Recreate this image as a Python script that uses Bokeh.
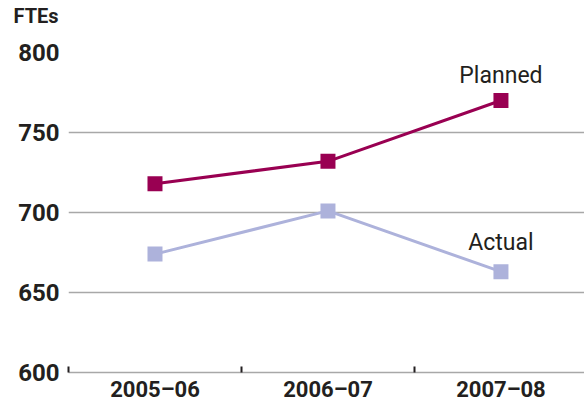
from bokeh.plotting import figure
from bokeh.models import Range1d, FixedTicker, ColumnDataSource, Label, Title
from bokeh.embed import file_html
from bokeh.resources import INLINE

# Fiscal years and full-time equivalents
years = ["2005–06", "2006–07", "2007–08"]
planned = [718, 732, 770]
actual = [674, 701, 663]
y_ticks = [600, 650, 700, 750, 800]

FONT = "Roboto"
TEXT_C = "#231f20"
PLANNED_C = "#990052"
ACTUAL_C = "#adb2db"
GRID_C = "#a8a8a8"

xs = [i + 0.5 for i in range(len(years))]

p = figure(width=584, height=408, output_backend="svg", toolbar_location=None,
           x_range=Range1d(0, 2.983), y_range=Range1d(600, 800),
           min_border_left=68, min_border_right=0, min_border_top=52,
           min_border_bottom=36)
p.title = None
p.outline_line_color = None
p.background_fill_color = "white"
p.border_fill_color = "white"

# blank panel between the plot area and the unit caption
p.add_layout(Title(text=" ", standoff=9, text_font=FONT,
                   text_font_size="12px"), "above")
# unit caption in the top-left corner
p.add_layout(Title(text="FTEs", align="left", offset=-55,
                   vertical_align="bottom", standoff=0, text_font=FONT,
                   text_font_style="bold", text_font_size="20px",
                   text_color=TEXT_C), "above")

# y axis: labels only, gridlines carry the scale
p.yaxis.ticker = FixedTicker(ticks=y_ticks)
p.yaxis.axis_line_color = None
p.yaxis.major_tick_line_color = None
p.yaxis.minor_tick_line_color = None
p.yaxis.major_tick_out = 0
p.yaxis.major_tick_in = 0
p.yaxis.major_label_standoff = 9
p.yaxis.major_label_text_font = FONT
p.yaxis.major_label_text_font_style = "bold"
p.yaxis.major_label_text_font_size = "24px"
p.yaxis.major_label_text_color = TEXT_C
p.ygrid.ticker = FixedTicker(ticks=y_ticks[1:])
p.ygrid.grid_line_color = GRID_C
p.ygrid.grid_line_width = 1.5
p.xgrid.grid_line_color = None

# x axis: category labels at centres, tick marks at category boundaries
p.xaxis.ticker = FixedTicker(ticks=xs, minor_ticks=list(range(len(years) + 1)))
p.xaxis.major_label_overrides = {x: y for x, y in zip(xs, years)}
p.xaxis.major_tick_line_color = None
p.xaxis.major_tick_out = 0
p.xaxis.major_tick_in = 0
p.xaxis.minor_tick_line_color = TEXT_C
p.xaxis.minor_tick_line_width = 2
p.xaxis.minor_tick_in = 6
p.xaxis.minor_tick_out = 0
p.xaxis.axis_line_color = GRID_C
p.xaxis.axis_line_width = 1.5
p.xaxis.major_label_standoff = 4
p.xaxis.major_label_text_font = FONT
p.xaxis.major_label_text_font_style = "bold"
p.xaxis.major_label_text_font_size = "22px"
p.xaxis.major_label_text_color = TEXT_C

src = ColumnDataSource(dict(x=xs, planned=planned, actual=actual))

p.line("x", "actual", source=src, line_color=ACTUAL_C, line_width=3)
p.scatter("x", "actual", source=src, marker="square", size=15,
          fill_color=ACTUAL_C, line_color=None)
p.line("x", "planned", source=src, line_color=PLANNED_C, line_width=3)
p.scatter("x", "planned", source=src, marker="square", size=15,
          fill_color=PLANNED_C, line_color=None)

# series names above the last points
p.add_layout(Label(x=xs[-1], y=planned[-1], y_offset=25, text="Planned",
                   text_align="center", text_baseline="alphabetic",
                   text_font=FONT, text_font_size="23px", text_color=TEXT_C))
p.add_layout(Label(x=xs[-1], y=actual[-1], y_offset=29, text="Actual",
                   text_align="center", text_baseline="alphabetic",
                   text_font=FONT, text_font_size="23px", text_color=TEXT_C))

open("out.html", "w").write(file_html(p, INLINE))
